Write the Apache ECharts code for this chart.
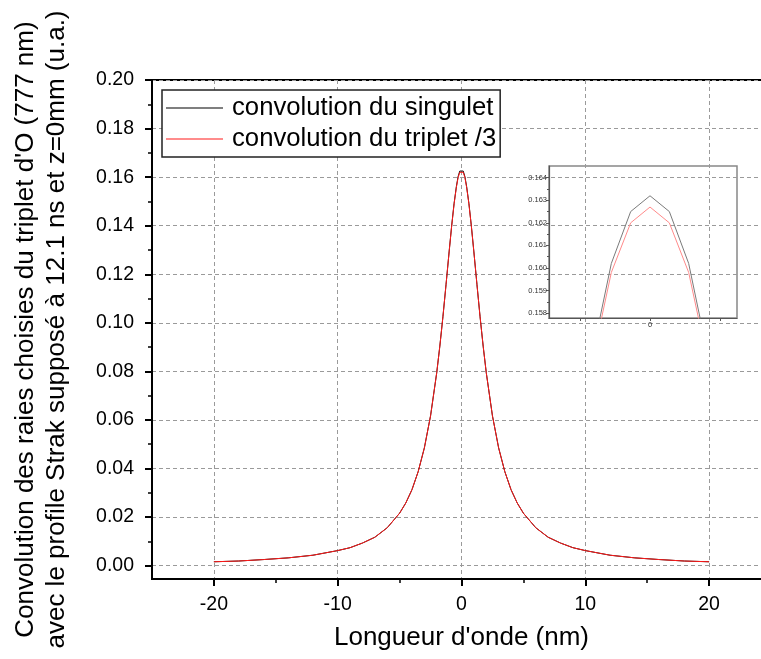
<!DOCTYPE html>
<html><head><meta charset="utf-8">
<script src="https://cdn.jsdelivr.net/npm/echarts@6/dist/echarts.min.js"></script>
<style>html,body{margin:0;padding:0;background:#fff}#c{width:761px;height:659px}</style>
</head><body><div id="c"></div>
<script>
// Wavelength offset (nm)
const wavelength = [-20,-18,-16,-14,-12,-10,-9,-8,-7,-6,-5,-4.5,-4,-3.5,-3,-2.5,-2,-1.75,-1.5,-1.25,-1,-0.8,-0.6,-0.414,-0.276,-0.138,0,
  0.138,0.276,0.414,0.6,0.8,1,1.25,1.5,1.75,2,2.5,3,3.5,4,4.5,5,6,7,8,9,10,12,14,16,18,20];
// convolution du singulet
const singulet = [0.0016,0.0019,0.0025,0.0032,0.0043,0.0062,0.0074,0.0093,0.0117,0.0156,0.0216,0.0258,0.0313,0.0387,0.0485,0.0617,0.0795,0.0904,0.1025,0.1157,0.1292,0.1397,0.1491,0.1561,0.1602,0.1625,0.1632,
  0.1625,0.1602,0.1561,0.1491,0.1397,0.1292,0.1157,0.1025,0.0904,0.0795,0.0617,0.0485,0.0387,0.0313,0.0258,0.0216,0.0156,0.0117,0.0093,0.0074,0.0062,0.0043,0.0032,0.0025,0.0019,0.0016];
// convolution du triplet /3
const triplet3 = [0.0016,0.0019,0.0025,0.0032,0.0043,0.0062,0.0074,0.0093,0.0117,0.0156,0.0216,0.0258,0.0313,0.0387,0.0485,0.0617,0.0795,0.0904,0.1025,0.1157,0.1292,0.1396,0.1489,0.1558,0.1598,0.1620,0.1627,
  0.1620,0.1598,0.1558,0.1489,0.1396,0.1292,0.1157,0.1025,0.0904,0.0795,0.0617,0.0485,0.0387,0.0313,0.0258,0.0216,0.0156,0.0117,0.0093,0.0074,0.0062,0.0043,0.0032,0.0025,0.0019,0.0016];

const seriesNames = ['convolution du singulet','convolution du triplet /3'];
const xMajorTicks = [-20,-10,0,10,20];
const xMinorTicks = [-15,-5,5,15];
const yMajorTicks = [0,0.02,0.04,0.06,0.08,0.10,0.12,0.14,0.16,0.18,0.20];
const yMinorTicks = [0.01,0.03,0.05,0.07,0.09,0.11,0.13,0.15,0.17,0.19];
const insetXTicks = [-0.5,0,0.5];
const insetXLabels = [0];
const insetYTicks = [0.158,0.159,0.160,0.161,0.162,0.163,0.164];
const insetYMinor = [0.1585,0.1595,0.1605,0.1615,0.1625,0.1635];

const FONT = 'Liberation Sans, Arial, sans-serif';
const pts = ys => wavelength.map((x,i)=>[x, ys[i]]);

const chart = echarts.init(document.getElementById('c'), null, {renderer:'canvas'});
chart.setOption({
  animation:false,
  backgroundColor:'#fff',
  textStyle:{fontFamily:FONT},
  grid:[
    {left:152, top:80, width:619, height:499, show:true, borderColor:'#000', borderWidth:2, backgroundColor:'transparent', outerBoundsMode:'none', containLabel:false},
    {left:549, top:166, width:188, height:152, show:true, borderColor:'#888', borderWidth:1.5, backgroundColor:'transparent', outerBoundsMode:'none', containLabel:false}
  ],
  legend:{
    left:162, top:90, orient:'vertical', data:seriesNames, icon:'rect',
    itemWidth:57, itemHeight:1.2, itemGap:3, padding:[4,4,4,4],
    backgroundColor:'#fff', borderColor:'#222', borderWidth:1.5, borderRadius:0,
    textStyle:{fontSize:25.7, fontFamily:FONT, color:'#000', lineHeight:28, padding:[0,0,0,4]}
  },
  xAxis:[
    {gridIndex:0, type:'value', min:-25, max:25, position:'bottom',
     axisLine:{onZero:false, lineStyle:{color:'#000', width:2}},
     axisTick:{customValues:xMajorTicks, length:7, lineStyle:{color:'#000', width:2}},
     axisLabel:{customValues:xMajorTicks, fontSize:19.5, color:'#000', margin:16, fontFamily:FONT},
     splitLine:{show:true, lineStyle:{color:'#9a9a9a', width:1, type:[4,3]}},
     name:"Longueur d'onde (nm)", nameLocation:'middle', nameGap:46,
     nameTextStyle:{fontSize:26, color:'#000', fontFamily:FONT}},
    {gridIndex:1, type:'value', min:-0.721, max:0.621, position:'bottom',
     axisLine:{onZero:false, lineStyle:{color:'#555', width:1.2}},
     axisTick:{customValues:insetXTicks, length:3, lineStyle:{color:'#555', width:1}},
     axisLabel:{customValues:insetXLabels, fontSize:7.5, color:'#333', margin:3, fontFamily:FONT},
     splitLine:{show:false}},
    {gridIndex:0, type:'value', min:-25, max:25, position:'bottom',
     axisLine:{show:false, onZero:false},
     axisTick:{customValues:xMinorTicks, length:4, lineStyle:{color:'#000', width:1.5}},
     axisLabel:{show:false}, splitLine:{show:false}}
  ],
  yAxis:[
    {gridIndex:0, type:'value', min:-0.0055, max:0.2, position:'left',
     axisLine:{onZero:false, lineStyle:{color:'#000', width:2}},
     axisTick:{customValues:yMajorTicks, length:7, lineStyle:{color:'#000', width:2}},
     axisLabel:{customValues:yMajorTicks, fontSize:19.5, color:'#000', margin:18, fontFamily:FONT, formatter:v=>v.toFixed(2)},
     splitLine:{show:true, lineStyle:{color:'#9a9a9a', width:1, type:[4,3]}},
     name:"Convolution des raies choisies du triplet d'O (777 nm)\navec le profile Strak supposé à 12.1 ns et z=0mm (u.a.)",
     nameLocation:'middle', nameRotate:90, nameGap:80,
     nameTextStyle:{fontSize:26, color:'#000', lineHeight:31, fontFamily:FONT, align:'center'}},
    {gridIndex:1, type:'value', min:0.15778, max:0.16452, position:'left',
     axisLine:{onZero:false, lineStyle:{color:'#555', width:1.2}},
     axisTick:{customValues:insetYTicks, length:3, lineStyle:{color:'#555', width:1}},
     axisLabel:{customValues:insetYTicks, fontSize:7.5, color:'#333', margin:2, fontFamily:FONT, formatter:v=>v.toFixed(3)},
     splitLine:{show:false}},
    {gridIndex:0, type:'value', min:-0.0055, max:0.2, position:'left',
     axisLine:{show:false, onZero:false},
     axisTick:{customValues:yMinorTicks, length:4, lineStyle:{color:'#000', width:1.5}},
     axisLabel:{show:false}, splitLine:{show:false}},
    {gridIndex:1, type:'value', min:0.15778, max:0.16452, position:'left',
     axisLine:{show:false, onZero:false},
     axisTick:{customValues:insetYMinor, length:2, lineStyle:{color:'#555', width:1}},
     axisLabel:{show:false}, splitLine:{show:false}}
  ],
  series:[
    {name:seriesNames[0], type:'line', xAxisIndex:0, yAxisIndex:0, data:pts(singulet), showSymbol:false, symbol:'none',
     color:'#000', lineStyle:{color:'#000', width:1}, z:3},
    {name:seriesNames[1], type:'line', xAxisIndex:0, yAxisIndex:0, data:pts(triplet3), showSymbol:false, symbol:'none',
     color:'#ff1a1a', lineStyle:{color:'#ff1a1a', width:1}, z:4},
    {name:seriesNames[0], type:'line', xAxisIndex:1, yAxisIndex:1, data:pts(singulet), showSymbol:false, symbol:'none', clip:true,
     lineStyle:{color:'#7a7a7a', width:1}, z:3},
    {name:seriesNames[1], type:'line', xAxisIndex:1, yAxisIndex:1, data:pts(triplet3), showSymbol:false, symbol:'none', clip:true,
     lineStyle:{color:'#ff8a8a', width:1}, z:4}
  ]
});
</script></body></html>
